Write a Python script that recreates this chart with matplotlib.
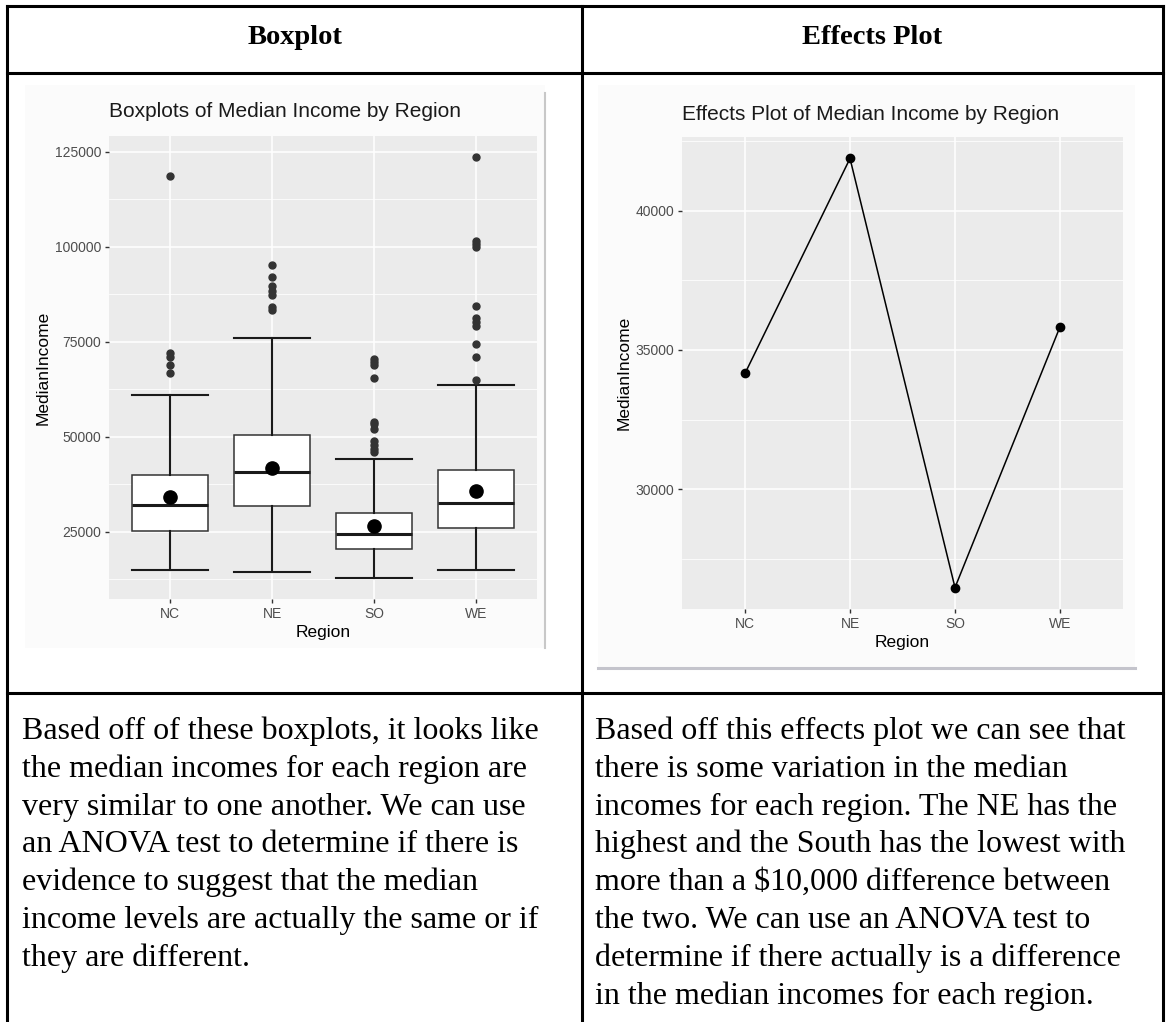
import matplotlib

matplotlib.use("Agg")
import matplotlib.pyplot as plt
from matplotlib.patches import Rectangle

plt.rcParams["font.family"] = ["Liberation Sans", "DejaVu Sans"]

W, H = 1166, 1022

regions = ["NC", "NE", "SO", "WE"]
q1 = [25300, 31700, 20400, 26000]
medians = [32200, 40700, 24400, 32700]
q3 = [39900, 50400, 30000, 41400]
whisker_lo = [14900, 14400, 12900, 15000]
whisker_hi = [60900, 76000, 44200, 63600]
means = [34160, 41870, 26480, 35830]

nc_outliers = [118500, 72000, 71000, 68800, 66800]
ne_outliers = [95300, 92000, 89800, 88300, 87300, 84200, 83400]
so_outliers = [70600, 69600, 68800, 65400, 54000, 53300, 52100, 48800, 47900, 46800, 46000]
we_outliers = [123600, 101600, 100600, 99900, 84500, 81200, 80100, 79100, 74500, 71000, 64900]
outliers = [nc_outliers, ne_outliers, so_outliers, we_outliers]

box_ticks = [25000, 50000, 75000, 100000, 125000]
box_minor = [12500, 37500, 62500, 87500, 112500]
eff_ticks = [30000, 35000, 40000]
eff_minor = [27500, 32500, 37500, 42500]

headers = ["Boxplot", "Effects Plot"]
left_lines = [
    "Based off of these boxplots, it looks like",
    "the median incomes for each region are",
    "very similar to one another. We can use",
    "an ANOVA test to determine if there is",
    "evidence to suggest that the median",
    "income levels are actually the same or if",
    "they are different.",
]
right_lines = [
    "Based off this effects plot we can see that",
    "there is some variation in the median",
    "incomes for each region. The NE has the",
    "highest and the South has the lowest with",
    r"more than a \$10,000 difference between",
    "the two. We can use an ANOVA test to",
    "determine if there actually is a difference",
    "in the median incomes for each region.",
]


def px_axes(fig, x0, y0, x1, y1):
    return fig.add_axes([x0 / W, 1 - y1 / H, (x1 - x0) / W, (y1 - y0) / H])


def expand(lo, hi, frac=0.05):
    pad = (hi - lo) * frac
    return lo - pad, hi + pad


def gg_style(ax, ticks, minor):
    ax.set_facecolor("#ebebeb")
    for s in ax.spines.values():
        s.set_visible(False)
    ax.set_xlim(0.4, 4.6)
    ax.set_xticks(range(1, 5))
    ax.set_xticklabels(regions)
    ax.set_yticks(ticks)
    ax.set_yticklabels([str(t) for t in ticks])
    ax.set_yticks(minor, minor=True)
    ax.tick_params(which="major", length=3.1, width=1.0, color="#333333",
                   labelcolor="#4d4d4d", labelsize=10, pad=2.5)
    ax.tick_params(which="minor", length=0)
    ax.grid(which="major", color="white", lw=1.1)
    ax.grid(which="minor", axis="y", color="white", lw=0.55)
    ax.set_axisbelow(True)
    ax.set_xlabel("Region", fontsize=12.5, labelpad=3)
    ax.set_ylabel("MedianIncome", fontsize=12.5, labelpad=3)


fig = plt.figure(figsize=(W / 100, H / 100), dpi=100)

# page layer: table rules, screenshot frames, text
page = fig.add_axes([0, 0, 1, 1])
page.set_xlim(0, W)
page.set_ylim(H, 0)
page.axis("off")

page.add_patch(Rectangle((25, 85), 520, 563, facecolor="#fbfbfb", edgecolor="none"))
page.plot([545, 545], [93, 648], color="#c8c8c8", lw=1.5)
page.add_patch(Rectangle((598, 85), 537, 583, facecolor="#fbfbfb", edgecolor="none"))
page.plot([598, 1135], [668, 668], color="#c4c4cc", lw=2.2)

rule = dict(color="black", lw=2.2, solid_capstyle="projecting")
for y in (6, 73, 693):
    page.plot([7, 1163], [y, y], **rule)
for x in (7, 582, 1163):
    page.plot([x, x], [6, H + 5], **rule)

serif = ["Liberation Serif", "DejaVu Serif"]
page.text(294.5, 44, headers[0], ha="center", va="baseline", fontsize=20.5,
          fontweight="bold", family=serif)
page.text(872.5, 44, headers[1], ha="center", va="baseline", fontsize=20.5,
          fontweight="bold", family=serif)
for i, line in enumerate(left_lines):
    page.text(22, 739 + i * 37.8, line, ha="left", va="baseline", fontsize=23, family=serif)
for i, line in enumerate(right_lines):
    page.text(595, 739 + i * 37.8, line, ha="left", va="baseline", fontsize=23, family=serif)

# boxplot panel
ax1 = px_axes(fig, 109, 136, 537, 599)
stats = []
for k, r in enumerate(regions):
    stats.append(dict(label=r, q1=q1[k], med=medians[k], q3=q3[k],
                      whislo=whisker_lo[k], whishi=whisker_hi[k],
                      mean=means[k], fliers=outliers[k]))
ax1.bxp(stats, positions=range(1, 5), widths=0.75, capwidths=0.75,
        showmeans=True, patch_artist=True,
        boxprops=dict(facecolor="white", edgecolor="#333333", lw=1.1),
        whiskerprops=dict(color="#1a1a1a", lw=1.5),
        capprops=dict(color="#1a1a1a", lw=1.5),
        medianprops=dict(color="#1a1a1a", lw=2.2),
        flierprops=dict(marker="o", markerfacecolor="#333333", markeredgecolor="#333333",
                        markersize=5),
        meanprops=dict(marker="o", markerfacecolor="black", markeredgecolor="black",
                       markersize=9.5))
all_vals = whisker_lo + [v for grp in outliers for v in grp]
ax1.set_ylim(*expand(min(all_vals), max(all_vals)))
gg_style(ax1, box_ticks, box_minor)
fig.text(109 / W, 1 - 117 / H, "Boxplots of Median Income by Region", fontsize=15,
         ha="left", va="baseline", color="#1a1a1a")

# effects panel
ax2 = px_axes(fig, 682, 137, 1123, 609)
ax2.plot(range(1, 5), means, color="black", lw=1.1, marker="o", markersize=6)
ax2.set_ylim(*expand(min(means), max(means)))
gg_style(ax2, eff_ticks, eff_minor)
fig.text(682 / W, 1 - 120 / H, "Effects Plot of Median Income by Region", fontsize=15,
         ha="left", va="baseline", color="#1a1a1a")

fig.savefig("out.png", dpi=100)
